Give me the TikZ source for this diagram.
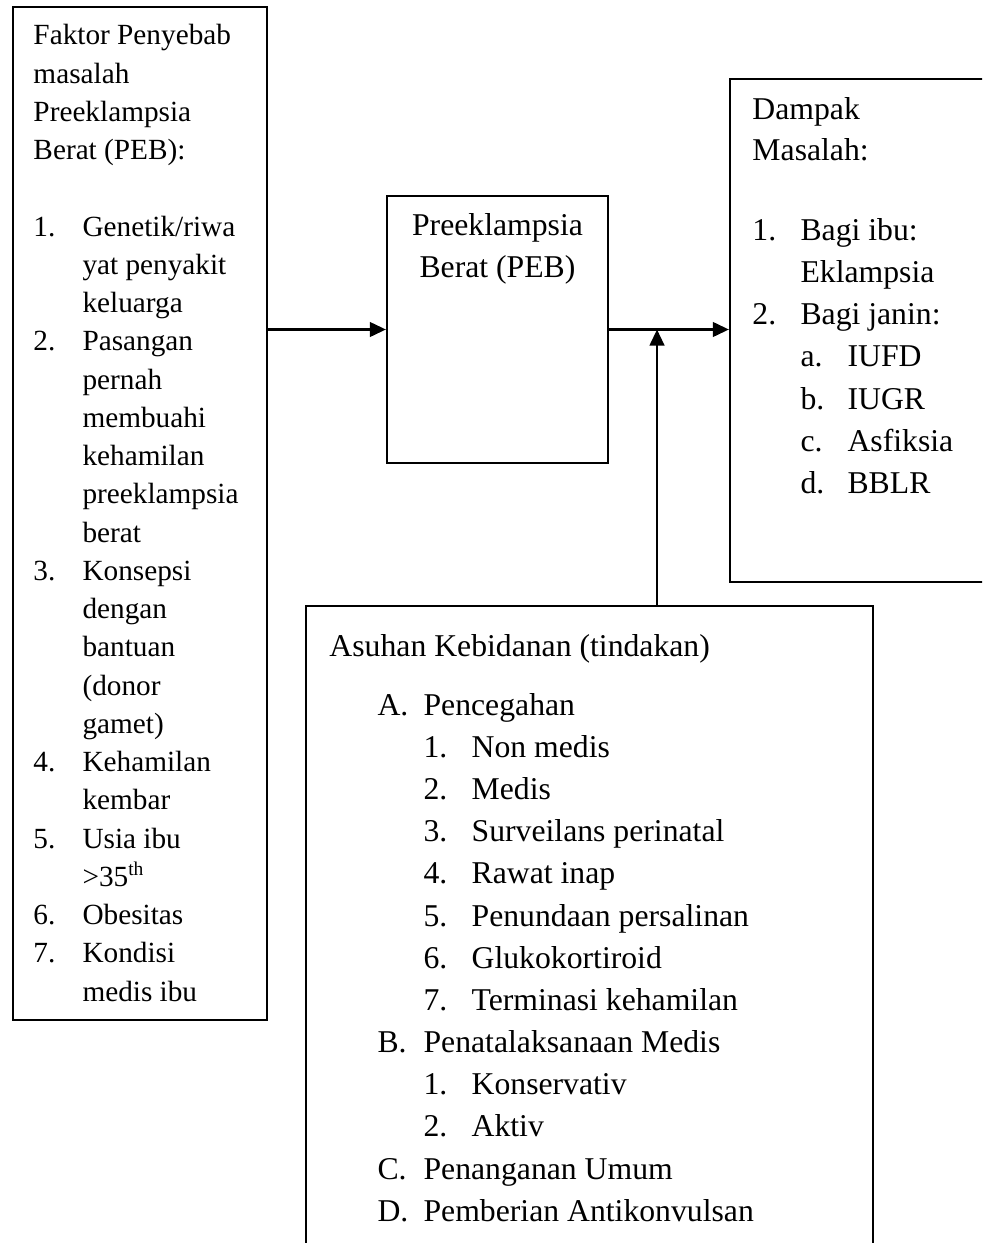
\documentclass[tikz,border=0pt]{standalone}
\usepackage{fontspec}
\setmainfont{Liberation Serif}
\usetikzlibrary{arrows.meta}
\usetikzlibrary{fit}
\usetikzlibrary{calc}

\newcommand{\judul}[2]{\multicolumn{#1}{@{}l@{}}{#2}}

\tikzset{
  kotak/.style={draw, line width=0.9pt, inner sep=0pt},
  teks/.style={inner sep=0pt, anchor=base west},
  panah/.style={line width=1pt, -{Triangle[length=6.6pt, width=6pt]}}
}

\begin{document}
\begin{tikzpicture}[x=0.41pt, y=-0.41pt]
      \useasboundingbox (0, 0) rectangle (982, 1243);
      \clip (0, 0) rectangle (982, 1243);
      % kotak
      \node[kotak, fit={(13, 7) (267, 1020)}] (faktor) {};
      \node[kotak, fit={(387, 196) (608, 463)}] (peb) {};
      \node[kotak, fit={(730, 79) (1010, 582)}] (dampak) {};
      \node[kotak, fit={(306, 606) (873, 1270)}] (asuhan) {};
      % teks
      \node[teks, font=\fontsize{12}{15.68}\selectfont] (faktortxt) at (33, 45) {%
        \begin{tabular}[t]{@{}p{20.1pt}@{}l@{}}
          \judul{2}{Faktor Penyebab}\\
          \judul{2}{masalah}\\
          \judul{2}{Preeklampsia}\\
          \judul{2}{Berat (PEB):}\\
          \\
          1. & Genetik/riwa\\
             & yat penyakit\\
             & keluarga\\
          2. & Pasangan\\
             & pernah\\
             & membuahi\\
             & kehamilan\\
             & preeklampsia\\
             & berat\\
          3. & Konsepsi\\
             & dengan\\
             & bantuan\\
             & (donor\\
             & gamet)\\
          4. & Kehamilan\\
             & kembar\\
          5. & Usia ibu\\
             & >35\textsuperscript{th}\\
          6. & Obesitas\\
          7. & Kondisi\\
             & medis ibu
        \end{tabular}};
      \node[teks, anchor=base, font=\fontsize{13}{17.6}\selectfont] (pebtxt) at (497.5, 235) {%
        \begin{tabular}[t]{@{}c@{}}
          Preeklampsia\\
          Berat (PEB)
        \end{tabular}};
      \node[teks, font=\fontsize{13}{17.3}\selectfont] (dampaktxt) at (752, 120) {%
        \begin{tabular}[t]{@{}p{19.7pt}@{}p{19.3pt}@{}l@{}}
          \judul{3}{Dampak}\\[-0.8pt]
          \judul{3}{Masalah:}\\[15.5pt]
          1. & \judul{2}{Bagi ibu:}\\
             & \judul{2}{Eklampsia}\\
          2. & \judul{2}{Bagi janin:}\\
             & a. & IUFD\\
             & b. & IUGR\\
             & c. & Asfiksia\\
             & d. & BBLR
        \end{tabular}};
      \node[teks, font=\fontsize{13}{17.3}\selectfont] (asuhantxt) at (329, 656) {%
        \begin{tabular}[t]{@{}p{19.7pt}@{}p{18.9pt}@{}p{19.7pt}@{}l@{}}
          \judul{4}{Asuhan Kebidanan (tindakan)}\\[6.9pt]
          & A. & \judul{2}{Pencegahan}\\
          &    & 1. & Non medis\\
          &    & 2. & Medis\\
          &    & 3. & Surveilans perinatal\\
          &    & 4. & Rawat inap\\
          &    & 5. & Penundaan persalinan\\
          &    & 6. & Glukokortiroid\\
          &    & 7. & Terminasi kehamilan\\
          & B. & \judul{2}{Penatalaksanaan Medis}\\
          &    & 1. & Konservativ\\
          &    & 2. & Aktiv\\
          & C. & \judul{2}{Penanganan Umum}\\
          & D. & \judul{2}{Pemberian Antikonvulsan}
        \end{tabular}};
      % panah
      \coordinate (temu) at ($(peb.east)!0.4!(dampak.west |- peb.east)$);
      \draw[panah] (faktor.east |- peb.west) -- (peb.west);
      \draw[panah] (peb.east) -- (dampak.west |- peb.east);
      \draw[panah] (asuhan.north -| temu) -- (temu);
    \end{tikzpicture}
\end{document}
